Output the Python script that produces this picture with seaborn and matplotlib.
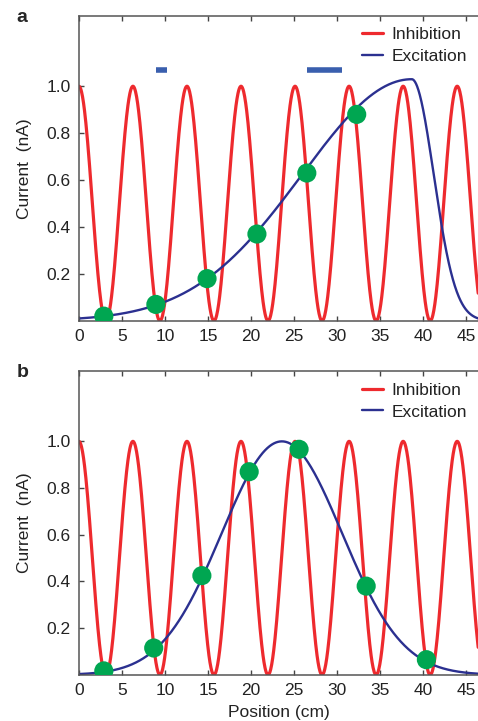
import numpy as np
import pandas as pd
import matplotlib
matplotlib.use("Agg")
import matplotlib.pyplot as plt
import seaborn as sns

# inhibition: theta-like oscillation, period (cm)
inh_period = 2 * np.pi
inh_peak = 1.0

# excitation: bump per panel (centre, left width, right width, height)
exc_a = dict(centre=38.7, w_left=18.0, w_right=3.6, height=1.03)
exc_b = dict(centre=23.6, w_left=9.9, w_right=9.9, height=1.0)

# spikes (green dots)
spk_a_x = [2.9, 8.95, 14.9, 20.7, 26.5, 32.3]
spk_a_y = [0.02, 0.07, 0.18, 0.37, 0.63, 0.88]
spk_b_x = [2.9, 8.7, 14.3, 19.8, 25.6, 33.4, 40.4]
spk_b_y = [0.017, 0.115, 0.425, 0.87, 0.966, 0.38, 0.065]

# blue bars in panel a (start, end) at height bar_y
bars_a = [(8.95, 10.2), (26.5, 30.6)]
bar_y = 1.07

xticks = [0, 5, 10, 15, 20, 25, 30, 35, 40, 45]
yticks = [0.2, 0.4, 0.6, 0.8, 1.0]
ytick_labels = ["0.2", "0.4", "0.6", "0.8", "1.0"]

RED = "#ee2a2e"
NAVY = "#2b3090"
GREEN = "#00a651"
BARBLUE = "#3a5fae"

sns.set_style("ticks")
plt.rcParams['font.family'] = ['Liberation Sans', 'DejaVu Sans']

pos = np.linspace(0, 46.5, 1200)


def excitation(x, p):
    w = np.where(x < p["centre"], p["w_left"], p["w_right"])
    return p["height"] * np.exp(-((x - p["centre"]) / w) ** 2)


def draw_panel(ax, exc, sx, sy, letter, xlabel=False):
    df = pd.DataFrame({"pos": pos,
                       "inh": inh_peak * (1 + np.cos(2 * np.pi * pos / inh_period)) / 2,
                       "exc": excitation(pos, exc)})
    sns.lineplot(data=df, x="pos", y="inh", color=RED, lw=2.3, ax=ax, label="Inhibition")
    sns.lineplot(data=df, x="pos", y="exc", color=NAVY, lw=1.7, ax=ax, label="Excitation")
    sns.scatterplot(x=sx, y=sy, color=GREEN, s=190, edgecolor="none", ax=ax, zorder=5)
    ax.set_xlim(0, 46.4)
    ax.set_ylim(0, 1.3)
    ax.set_xticks(xticks)
    ax.set_yticks(yticks)
    ax.set_yticklabels(ytick_labels)
    ax.tick_params(direction="in", top=True, length=3.5, width=1, labelsize=12.5,
                   color="#444444", labelcolor="#222222", pad=6)
    for s in ["left", "top", "bottom"]:
        ax.spines[s].set_linewidth(1.1)
        ax.spines[s].set_color("#555555")
    ax.spines["right"].set_visible(False)
    ax.set_ylabel("Current  (nA)", fontsize=12.5, color="#222222", labelpad=10)
    if xlabel:
        ax.set_xlabel("Position (cm)", fontsize=12.5, color="#222222", labelpad=5)
    else:
        ax.set_xlabel("")
    leg = ax.legend(loc="upper right", frameon=False, fontsize=12.5, handlelength=1.25,
                    handletextpad=0.45, labelspacing=0.38, borderaxespad=0.1,
                    borderpad=0.55)
    for t in leg.get_texts():
        t.set_color("#222222")
    ax.text(-0.157, 0.995, letter, transform=ax.transAxes, fontsize=14, fontweight="bold",
            va="center", ha="left")


fig = plt.figure(figsize=(4.78, 7.21), dpi=100)
ax_a = fig.add_axes([0.165, 0.555, 0.835, 0.423])
ax_b = fig.add_axes([0.165, 0.064, 0.835, 0.421])

draw_panel(ax_a, exc_a, spk_a_x, spk_a_y, "a")
for x0, x1 in bars_a:
    ax_a.hlines(bar_y, x0, x1, color=BARBLUE, lw=4)
draw_panel(ax_b, exc_b, spk_b_x, spk_b_y, "b", xlabel=True)

fig.savefig("out.png", dpi=100)
